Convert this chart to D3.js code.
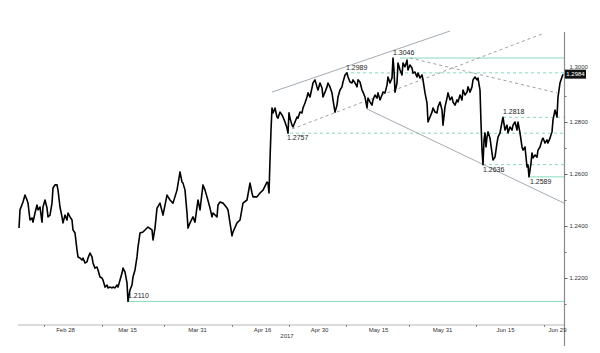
<!DOCTYPE html>
<html><head><meta charset="utf-8">
<script src="https://cdn.jsdelivr.net/npm/d3@7"></script>
<style>html,body{margin:0;padding:0;background:#fff;}svg{display:block;}</style>
</head><body><svg id="c" width="600" height="353"></svg>
<script>
// GBP/USD 2017 — [bar index (6h bars from Feb 14), price]
const priceSeries = [
[0,1.2392],[1,1.2462],[4,1.2492],[6,1.2519],[8,1.2500],[9,1.2488],[11,1.2423],[13,1.2431],[14,1.2415],[16,1.2450],[18,1.2481],[19,1.2462],[21,1.2473],[23,1.2415],[24,1.2473],[26,1.2500],[28,1.2469],[29,1.2435],[31,1.2442],[33,1.2488],[34,1.2546],[36,1.2558],[38,1.2558],[39,1.2538],[41,1.2473],[43,1.2435],[44,1.2412],[46,1.2442],[48,1.2423],[49,1.2450],[51,1.2435],[53,1.2423],[54,1.2385],[56,1.2373],[58,1.2308],[59,1.2281],[61,1.2277],[63,1.2269],[64,1.2277],[66,1.2258],[68,1.2262],[69,1.2277],[71,1.2296],[73,1.2281],[74,1.2258],[76,1.2238],[78,1.2242],[79,1.2231],[81,1.2204],[83,1.2200],[84,1.2192],[86,1.2165],[88,1.2173],[89,1.2162],[91,1.2165],[93,1.2162],[94,1.2165],[96,1.2162],[98,1.2173],[99,1.2165],[101,1.2192],[103,1.2219],[104,1.2238],[106,1.2223],[108,1.2181],[109,1.2110],[111,1.2154],[113,1.2173],[114,1.2204],[116,1.2231],[118,1.2281],[119,1.2319],[121,1.2373],
[124,1.2377],[129,1.2396],[133,1.2385],[134,1.2346],[136,1.2392],[138,1.2469],[141,1.2488],[144,1.2442],[148,1.2519],[151,1.2500],[154,1.2488],[158,1.2538],[161,1.2608],[163,1.2569],[164,1.2565],[166,1.2538],[168,1.2450],[169,1.2392],[171,1.2412],[174,1.2435],[176,1.2415],[178,1.2473],[179,1.2500],[181,1.2462],[183,1.2527],[184,1.2558],[186,1.2538],[188,1.2512],[191,1.2469],[193,1.2435],[194,1.2450],[198,1.2435],[199,1.2481],[201,1.2492],[204,1.2488],[208,1.2469],[209,1.2462],[211,1.2412],[213,1.2362],[214,1.2377],[218,1.2412],[221,1.2423],[224,1.2488],[228,1.2500],[231,1.2565],[233,1.2527],[234,1.2512],[238,1.2512],[241,1.2527],[244,1.2538],[248,1.2569],[249,1.2565],[250,1.2527],[251,1.2654],
[252,1.2769],[253,1.2854],[254,1.2835],[256,1.2854],[258,1.2819],[259,1.2815],[261,1.2838],[263,1.2827],[264,1.2819],[266,1.2800],[268,1.2777],[269,1.2757],[270,1.2835],[271,1.2815],[273,1.2788],[274,1.2781],[276,1.2800],[278,1.2819],[279,1.2815],[281,1.2838],[283,1.2835],[284,1.2854],[286,1.2873],[288,1.2896],[289,1.2912],[291,1.2896],[293,1.2931],[294,1.2950],[296,1.2962],[298,1.2935],[299,1.2923],[301,1.2950],[303,1.2931],[304,1.2896],[306,1.2915],[308,1.2935],[309,1.2950],[311,1.2935],[313,1.2912],[314,1.2885],[316,1.2838],[318,1.2865],[319,1.2896],[321,1.2923],[323,1.2935],[324,1.2954],[326,1.2981],[328,1.2989],[329,1.2973],[331,1.2954],[333,1.2950],[334,1.2962],[336,1.2950],[338,1.2935],[339,1.2962],[341,1.2954],[343,1.2923],[344,1.2915],[346,1.2896],[348,1.2854],[349,1.2892],[351,1.2877],[353,1.2865],[354,1.2885],[356,1.2904],[358,1.2892],[359,1.2912],[361,1.2885],[363,1.2904],[364,1.2915],[366,1.2912],[368,1.2942],[369,1.2973],[371,1.2950],[373,1.2969],[374,1.3046],[375,1.3000],[376,1.2915],[378,1.2950],[379,1.3027],[381,1.3000],[383,1.2981],[384,1.3027],[386,1.3012],[388,1.3038],[389,1.3000],[391,1.3019],[393,1.3008],[394,1.2988],[396,1.2992],[398,1.2973],[399,1.2988],[401,1.2969],[403,1.2981],[404,1.2962],[406,1.2912],[408,1.2873],[409,1.2800],[411,1.2819],[413,1.2838],[414,1.2854],[416,1.2838],[418,1.2835],[419,1.2858],[421,1.2877],[423,1.2846],[424,1.2788],[426,1.2858],[428,1.2892],[429,1.2912],[431,1.2885],[433,1.2896],[434,1.2877],[436,1.2865],[438,1.2885],[439,1.2877],[441,1.2904],[443,1.2885],[444,1.2923],[446,1.2904],[448,1.2915],[449,1.2935],[451,1.2915],[453,1.2935],[454,1.2962],[456,1.2973],[458,1.2962],[459,1.2969],[461,1.2923],[462,1.2796],[463,1.2692],[464,1.2636],[465,1.2731],[466,1.2758],[467,1.2704],[468,1.2742],[469,1.2762],[471,1.2738],[473,1.2681],[474,1.2654],[476,1.2665],[478,1.2719],[479,1.2742],[481,1.2758],[483,1.2800],[484,1.2818],[486,1.2769],[488,1.2788],[489,1.2758],[491,1.2781],[493,1.2769],[494,1.2788],[496,1.2800],[498,1.2769],[499,1.2800],[501,1.2758],[503,1.2704],[504,1.2692],[506,1.2704],[508,1.2627],[509,1.2635],[510,1.2589],[512,1.2642],[513,1.2681],[514,1.2662],[516,1.2673],[518,1.2665],[519,1.2692],[521,1.2704],[523,1.2731],[524,1.2738],[526,1.2719],[528,1.2731],[529,1.2719],[531,1.2738],[533,1.2762],[534,1.2808],[536,1.2846],[538,1.2819],[539,1.2896],[541,1.2950],[543,1.2973],[544,1.2984]
];
const lastPrice = 1.2984;

// Marked swing levels
const levelPrices = [1.3046, 1.2989, 1.2818, 1.2757, 1.2636, 1.2589, 1.2110];
const levelStarts = [381, 326, 484, 271, 464, 511, 109];
const levelDashed = [false, true, true, true, true, false, false];

// Swing labels
const swingLabels = ["1.3046", "1.2989", "1.2757", "1.2818", "1.2636", "1.2589", "1.2110"];
const swingBars = [374, 327, 268, 484, 464, 511, 109];
const swingPrices = [1.3046, 1.2989, 1.2757, 1.2818, 1.2636, 1.2589, 1.2110];
const swingBelow = [false, false, true, false, true, true, false];

// Trend lines: [bar1, price1, bar2, price2]
const trendSolid = [[253, 1.2915, 431, 1.3150], [348, 1.2850, 545, 1.2488]];
const trendDashed = [[273, 1.2773, 524, 1.3140], [391, 1.3046, 538, 1.2912]];

// Axes
const yLabelTicks = [1.22, 1.24, 1.26, 1.28, 1.30];
const yMinorTicks = [1.21, 1.23, 1.25, 1.27, 1.29];
const xTickBars = [25, 83, 145, 213, 270, 327, 390, 457, 525];
const xLabelBars = [46, 108, 178, 243, 300, 359, 423, 486, 538];
const xLabels = ["Feb 28", "Mar 15", "Mar 31", "Apr 16", "Apr 30", "May 15", "May 31", "Jun 15", "Jun 29"];
const yearLabel = "2017";

const svg = d3.select("#c");
const x = d3.scaleLinear().domain([0, 545]).range([19, 564]);
const y = d3.scaleLinear().domain([1.2, 1.3]).range([330, 70]);
const font = "'Liberation Sans', Arial, sans-serif";
const teal = "#86d9bd";
const grey = "#a3abb5";

// axes lines
svg.append("line").attr("x1", 18).attr("x2", 564).attr("y1", 325).attr("y2", 325)
  .attr("stroke", "#b5b5b5").attr("stroke-width", 1);
svg.append("line").attr("x1", 564.5).attr("x2", 564.5).attr("y1", 32).attr("y2", 346)
  .attr("stroke", "#8a8a8a").attr("stroke-width", 1.2);

// levels
levelPrices.forEach((p, i) => {
  svg.append("line")
    .attr("x1", x(levelStarts[i])).attr("x2", x(545))
    .attr("y1", y(p)).attr("y2", y(p))
    .attr("stroke", teal).attr("stroke-width", 1)
    .attr("stroke-dasharray", levelDashed[i] ? "3,3" : null);
});

// trend lines
trendSolid.forEach(t => {
  svg.append("line").attr("x1", x(t[0])).attr("y1", y(t[1])).attr("x2", x(t[2])).attr("y2", y(t[3]))
    .attr("stroke", grey).attr("stroke-width", 1);
});
trendDashed.forEach(t => {
  svg.append("line").attr("x1", x(t[0])).attr("y1", y(t[1])).attr("x2", x(t[2])).attr("y2", y(t[3]))
    .attr("stroke", "#a0a0a0").attr("stroke-width", 1).attr("stroke-dasharray", "3,3");
});

// price line
const line = d3.line().x(d => x(d[0])).y(d => y(d[1]));
svg.append("path").datum(priceSeries).attr("d", line)
  .attr("fill", "none").attr("stroke", "#000").attr("stroke-width", 1.6)
  .attr("stroke-linejoin", "round");

// swing labels
swingLabels.forEach((s, i) => {
  svg.append("text").attr("x", x(swingBars[i])).attr("y", y(swingPrices[i]) + (swingBelow[i] ? 7 : -3))
    .attr("font-family", font).attr("font-size", 7).attr("fill", "#222").text(s);
});

// y axis
const yAxis = d3.axisRight(y).tickValues(yLabelTicks).tickFormat(d3.format(".4f")).tickSize(3).tickPadding(2);
const gy = svg.append("g").attr("transform", "translate(564.5,0)").call(yAxis);
gy.select(".domain").remove();
gy.selectAll("line").attr("stroke", "#666");
gy.selectAll("text").attr("font-family", font).attr("font-size", 6).attr("fill", "#333");
gy.selectAll(".tick").filter(d => d === 1.30).select("text").attr("dy", "-0.2em");
const gym = svg.append("g").attr("transform", "translate(564.5,0)")
  .call(d3.axisRight(y).tickValues(yMinorTicks).tickSize(2).tickFormat(""));
gym.select(".domain").remove();
gym.selectAll("line").attr("stroke", "#777");

// x axis
const gx = svg.append("g").attr("transform", "translate(0,325)")
  .call(d3.axisBottom(x).tickValues(xTickBars).tickSize(2).tickFormat(""));
gx.select(".domain").remove();
gx.selectAll("line").attr("stroke", "#888");
const gxl = svg.append("g").attr("transform", "translate(0,325)")
  .call(d3.axisBottom(x).tickValues(xLabelBars).tickSize(0).tickPadding(3)
    .tickFormat((d, i) => xLabels[i]));
gxl.select(".domain").remove();
gxl.selectAll("text").attr("font-family", font).attr("font-size", 6).attr("fill", "#333");
svg.append("text").attr("x", x(268)).attr("y", 338).attr("text-anchor", "middle")
  .attr("font-family", font).attr("font-size", 6).attr("fill", "#333").text(yearLabel);

// last price tag
const tagY = y(lastPrice);
svg.append("rect").attr("x", 565).attr("y", tagY - 4.5).attr("width", 21).attr("height", 9).attr("fill", "#111");
svg.append("text").attr("x", 575.5).attr("y", tagY + 2.3).attr("text-anchor", "middle")
  .attr("font-family", font).attr("font-size", 6).attr("fill", "#fff").text(lastPrice.toFixed(4));
</script></body></html>
